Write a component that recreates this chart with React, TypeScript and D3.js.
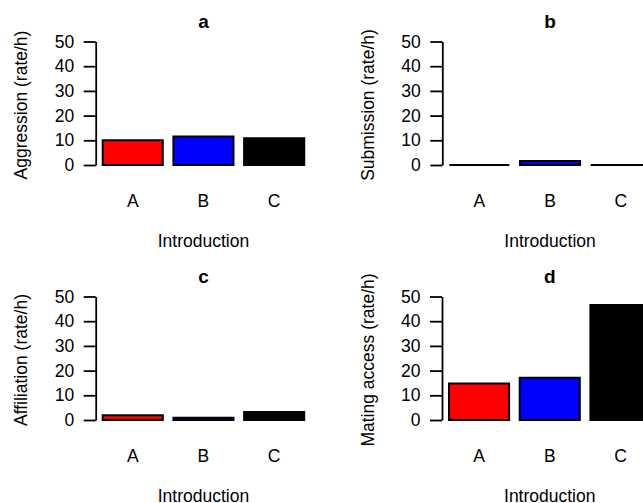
import React, { useEffect, useRef } from "react";
import * as d3 from "d3";

const categories = ["A", "B", "C"];
const barColors = ["#ff0000", "#0000ff", "#000000"];

const aggression = [10.0, 11.5, 10.8];
const submission = [0, 1.6, 0];
const affiliation = [1.9, 0.9, 3.2];
const matingAccess = [14.8, 17.1, 46.6];

const panelTitles = ["a", "b", "c", "d"];
const yLabels = [
  "Aggression (rate/h)",
  "Submission (rate/h)",
  "Affiliation (rate/h)",
  "Mating access (rate/h)",
];
const xLabel = "Introduction";
const yTicks = [0, 10, 20, 30, 40, 50];

const W = 643;
const H = 503;
const FONT = "'Liberation Sans', Arial, sans-serif";
const FS = "17.5px";

// axis origin of each panel (x of y-axis, y of zero line)
const origins = [
  [95.7, 165],
  [442.3, 165],
  [95.7, 420],
  [442, 420],
];

export default function App() {
  const ref = useRef<SVGSVGElement>(null);

  useEffect(() => {
    const svg = d3.select(ref.current);
    svg.selectAll("*").remove();
    const series = [aggression, submission, affiliation, matingAccess];

    series.forEach((vals, i) => {
      const [ox, oy] = origins[i];
      const g = svg.append("g");

      const y = d3.scaleLinear().domain([0, 50]).range([oy, oy - 123.5]);
      const x = d3
        .scaleBand()
        .domain(categories)
        .range([ox + 7, ox + 208.5])
        .paddingInner(0.15)
        .paddingOuter(0);

      // y axis
      const ax = g
        .append("g")
        .attr("transform", `translate(${ox},0)`)
        .call(
          d3.axisLeft(y).tickValues(yTicks).tickSize(12).tickSizeOuter(0).tickPadding(9.5)
        );
      ax.select(".domain").attr("stroke", "#000").attr("stroke-width", 1.8);
      ax.selectAll(".tick line").attr("stroke", "#000").attr("stroke-width", 1.8);
      ax.selectAll(".tick text")
        .attr("fill", "#000")
        .style("font-family", FONT)
        .style("font-size", FS);

      // bars as paths so zero-height bars still show their border
      g.selectAll("path.bar")
        .data(vals)
        .enter()
        .append("path")
        .attr("class", "bar")
        .attr("d", (d, j) => {
          const x0 = x(categories[j])!;
          const x1 = x0 + x.bandwidth();
          return `M${x0},${oy}H${x1}V${y(d)}H${x0}Z`;
        })
        .attr("fill", (_, j) => barColors[j])
        .attr("stroke", "#000")
        .attr("stroke-width", 2);

      // category labels
      g.selectAll("text.cat")
        .data(categories)
        .enter()
        .append("text")
        .attr("class", "cat")
        .attr("x", (d) => x(d)! + x.bandwidth() / 2)
        .attr("y", oy + 41.5)
        .attr("text-anchor", "middle")
        .style("font-family", FONT)
        .style("font-size", FS)
        .text((d) => d);

      const cx = (x.range()[0] + x.range()[1]) / 2;

      g.append("text")
        .attr("x", cx)
        .attr("y", oy + 82)
        .attr("text-anchor", "middle")
        .style("font-family", FONT)
        .style("font-size", FS)
        .text(xLabel);

      g.append("text")
        .attr("x", cx)
        .attr("y", oy - 137.5)
        .attr("text-anchor", "middle")
        .style("font-family", FONT)
        .style("font-size", "19px")
        .style("font-weight", "bold")
        .text(panelTitles[i]);

      g.append("text")
        .attr("transform", `translate(${ox - 68.5},${oy - 60}) rotate(-90)`)
        .attr("text-anchor", "middle")
        .style("font-family", FONT)
        .style("font-size", FS)
        .text(yLabels[i]);
    });
  }, []);

  return (
    <svg
      ref={ref}
      width={W}
      height={H}
      style={{ position: "absolute", left: 0, top: 0, background: "#fff" }}
    />
  );
}
